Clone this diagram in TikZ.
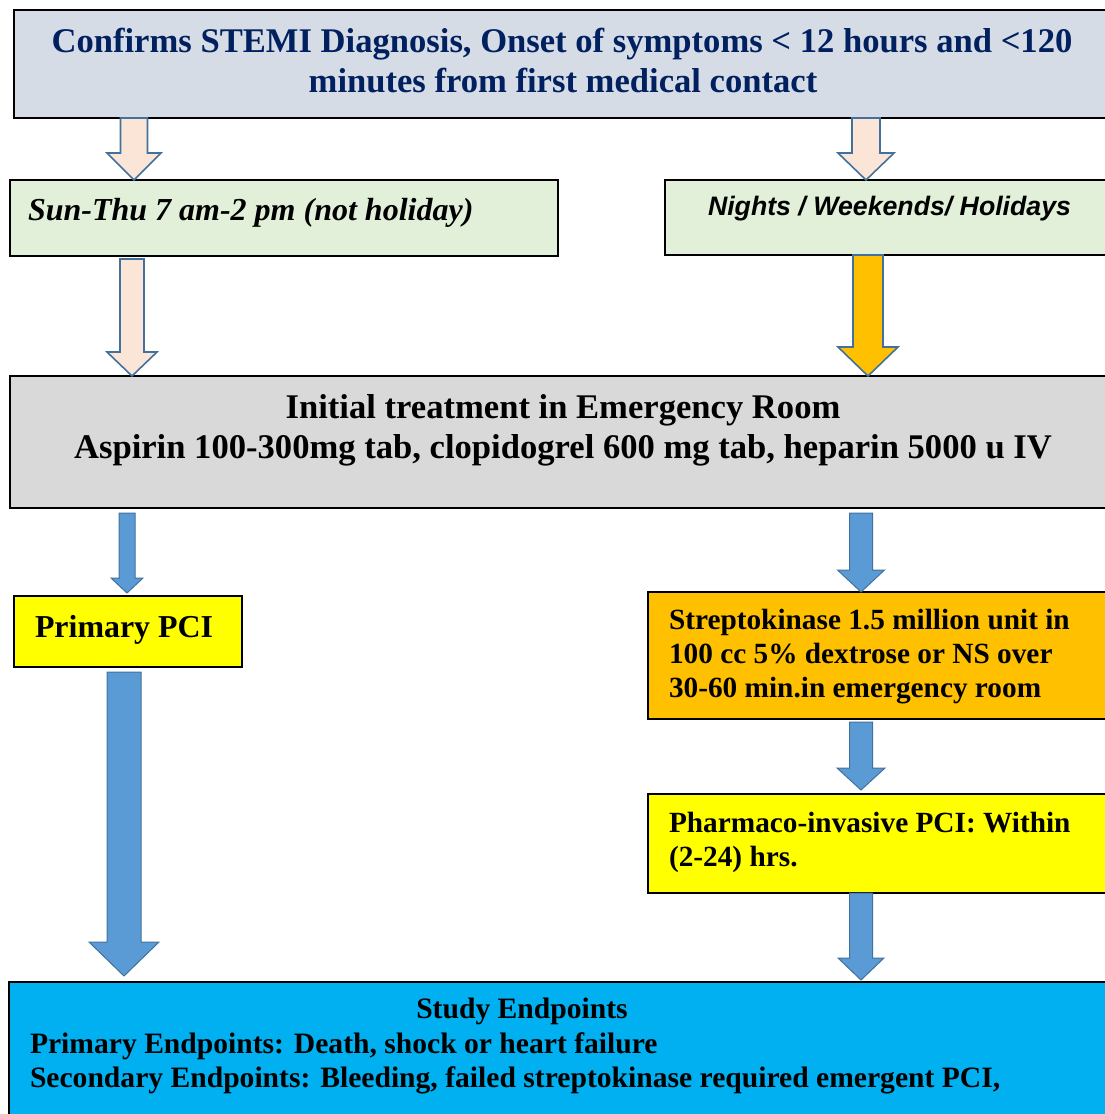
\documentclass[tikz,border=0pt]{standalone}
\usepackage{fontspec}
\setmainfont{Liberation Serif}
\newfontfamily\arialf{Liberation Sans}
\usetikzlibrary{calc}
\definecolor{topfill}{HTML}{D6DCE5}
\definecolor{navy}{HTML}{002060}
\definecolor{greenfill}{HTML}{E2F0D9}
\definecolor{peach}{HTML}{FBE5D6}
\definecolor{arrline}{HTML}{41719C}
\definecolor{orangefill}{HTML}{FFC000}
\definecolor{grayfill}{HTML}{D9D9D9}
\definecolor{bluearr}{HTML}{5B9BD5}
\definecolor{yell}{HTML}{FFFF00}
\definecolor{cyanfill}{HTML}{00B0F0}
\tikzset{
  box/.style={draw=black, line width=1.3pt, rectangle, anchor=north west, inner sep=0pt, outer sep=0pt},
  txt/.style={inner sep=0pt, outer sep=0pt, font=\bfseries},
  peacharr/.style={fill=peach, draw=arrline, line width=1.6pt, line join=miter},
  orangearr/.style={fill=orangefill, draw=arrline, line width=1.6pt, line join=miter},
  bluearrow/.style={fill=bluearr, draw=arrline, line width=1pt, line join=miter},
}
% #1 style, #2 start, #3 tip, #4 shaft half width, #5 head half width, #6 head length
\newcommand\blockarr[6]{%
  \path[#1] let \p1=#2, \p2=#3 in
    (\x1-#4,\y1) -- (\x1+#4,\y1) -- (\x1+#4,\y2+#6) -- (\x1+#5,\y2+#6)
    -- (\x1,\y2) -- (\x1-#5,\y2+#6) -- (\x1-#4,\y2+#6) -- cycle;}
\begin{document}
\begin{tikzpicture}[x=1pt,y=-1pt]
\useasboundingbox (0,0) rectangle (1105,1114);
\begin{scope}
\clip (0,0) rectangle (1105,1114);
% boxes
\node[box, fill=topfill, minimum width=1100pt, minimum height=108pt] (topbox) at (14,10) {};
\node[box, fill=greenfill, minimum width=548pt, minimum height=76pt] (gleft) at (10,180) {};
\node[box, fill=greenfill, minimum width=450pt, minimum height=75pt] (gright) at (665,180) {};
\node[box, fill=grayfill, minimum width=1100pt, minimum height=132pt] (graybox) at (10,376) {};
\node[box, fill=yell, minimum width=228pt, minimum height=71pt] (ppci) at (14,596) {};
\node[box, fill=orangefill, minimum width=470pt, minimum height=127pt] (strep) at (648,592) {};
\node[box, fill=yell, minimum width=470pt, minimum height=99pt] (pharm) at (648,794) {};
\node[box, fill=cyanfill, minimum width=1110pt, minimum height=140pt] (endp) at (9,982) {};
% texts
\node[txt, text=navy, anchor=base, font=\bfseries\fontsize{34.6}{40}\selectfont] (t1a) at (562,52) {Confirms STEMI Diagnosis, Onset of symptoms < 12 hours and <120};
\node[txt, text=navy, anchor=base, font=\bfseries\fontsize{34.6}{40}\selectfont] (t1b) at (563,92) {minutes from first medical contact};
\node[txt, anchor=base west, font=\bfseries\itshape\fontsize{32}{38}\selectfont] (tgl) at (28,220) {Sun-Thu 7 am-2 pm (not holiday)};
\node[txt, anchor=base west, font=\arialf\bfseries\itshape\fontsize{26.7}{32}\selectfont] (tgr) at (708,215) {Nights / Weekends/ Holidays};
\node[txt, anchor=base, font=\bfseries\fontsize{34.6}{40}\selectfont] (tga) at (563,418) {Initial treatment in Emergency Room};
\node[txt, anchor=base, font=\bfseries\fontsize{34.6}{40}\selectfont] (tgb) at (563,458) {Aspirin 100-300mg tab, clopidogrel 600 mg tab, heparin 5000 u IV};
\node[txt, anchor=base west, font=\bfseries\fontsize{31.9}{38}\selectfont] (tp) at (35,637) {Primary PCI};
\node[txt, anchor=base west, font=\bfseries\fontsize{29.3}{34}\selectfont] (ts1) at (669,629) {Streptokinase 1.5 million unit in};
\node[txt, anchor=base west, font=\bfseries\fontsize{29.3}{34}\selectfont] (ts2) at (669,663) {100 cc 5\% dextrose or NS over};
\node[txt, anchor=base west, font=\bfseries\fontsize{29.3}{34}\selectfont] (ts3) at (669,697) {30-60 min.in emergency room};
\node[txt, anchor=base west, font=\bfseries\fontsize{29.3}{34}\selectfont] (tph1) at (669,832) {Pharmaco-invasive PCI: Within};
\node[txt, anchor=base west, font=\bfseries\fontsize{29.3}{34}\selectfont] (tph2) at (669,866) {(2-24) hrs.};
\node[txt, anchor=base, font=\bfseries\fontsize{29.6}{35}\selectfont] (te0) at (522,1018) {Study Endpoints};
\node[txt, anchor=base west, font=\bfseries\fontsize{29.6}{35}\selectfont] (te1) at (30,1053) {Primary Endpoints: Death, shock or heart failure};
\node[txt, anchor=base west, font=\bfseries\fontsize{29.6}{35}\selectfont] (te2) at (30,1087) {Secondary Endpoints: Bleeding, failed streptokinase required emergent PCI,};
% arrow x positions
\coordinate (xa) at (134,0);
\coordinate (xb) at (866,0);
\coordinate (xc) at (132,0);
\coordinate (xd) at (868,0);
\coordinate (xe) at (127,0);
\coordinate (xf) at (861,0);
\coordinate (xg) at (124,0);
% arrows
\blockarr{peacharr}{(xa |- topbox.south)}{(xa |- gleft.north)}{13.5pt}{27pt}{27pt}
\blockarr{peacharr}{(xb |- topbox.south)}{(xb |- gright.north)}{14pt}{28pt}{27pt}
\blockarr{peacharr}{($(xc |- gleft.south)+(0,3)$)}{(xc |- graybox.north)}{12pt}{25pt}{24pt}
\blockarr{orangearr}{(xd |- gright.south)}{(xd |- graybox.north)}{15pt}{30pt}{29pt}
\blockarr{bluearrow}{($(xe |- graybox.south)+(0,5)$)}{($(xe |- ppci.north)+(0,-3)$)}{8pt}{16pt}{15pt}
\blockarr{bluearrow}{($(xf |- graybox.south)+(0,5)$)}{(xf |- strep.north)}{11.5pt}{23.5pt}{22pt}
\blockarr{bluearrow}{($(xf |- strep.south)+(0,3)$)}{($(xf |- pharm.north)+(0,-4)$)}{11.5pt}{24pt}{22pt}
\blockarr{bluearrow}{(xf |- pharm.south)}{($(xf |- endp.north)+(0,-2)$)}{11.5pt}{23pt}{22pt}
\blockarr{bluearrow}{($(xg |- ppci.south)+(0,5)$)}{($(xg |- endp.north)+(0,-6)$)}{17pt}{35pt}{34pt}
\end{scope}
\end{tikzpicture}
\end{document}
